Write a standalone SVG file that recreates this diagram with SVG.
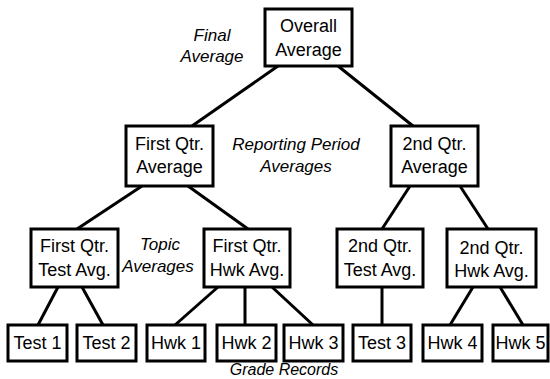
<svg xmlns="http://www.w3.org/2000/svg" width="550" height="379" viewBox="0 0 550 379">
<style>
  .box { fill: #fff; stroke: #000; stroke-width: 3; }
  .t { font-family: "Liberation Sans", Arial, sans-serif; font-size: 18px; text-anchor: middle; fill: #000; }
  .lbl { font-family: "Liberation Sans", Arial, sans-serif; font-size: 17px; font-style: italic; text-anchor: middle; fill: #000; }
  .c { stroke: #000; stroke-width: 3; fill: none; }
</style>
<rect width="550" height="379" fill="#fff"/>
<g id="connectors">
  <line class="c" x1="278" y1="66" x2="192" y2="126"/>
  <line class="c" x1="338" y1="66" x2="413" y2="126"/>
  <line class="c" x1="142" y1="186" x2="77" y2="229"/>
  <line class="c" x1="188" y1="186" x2="248" y2="229"/>
  <line class="c" x1="410" y1="186" x2="382" y2="229"/>
  <line class="c" x1="460" y1="186" x2="488" y2="229"/>
  <line class="c" x1="58" y1="287" x2="38" y2="325"/>
  <line class="c" x1="82" y1="287" x2="103" y2="325"/>
  <line class="c" x1="218" y1="287" x2="175" y2="325"/>
  <line class="c" x1="245" y1="287" x2="245" y2="325"/>
  <line class="c" x1="272" y1="287" x2="313" y2="325"/>
  <line class="c" x1="382" y1="287" x2="382" y2="325"/>
  <line class="c" x1="473" y1="287" x2="450" y2="325"/>
  <line class="c" x1="500" y1="287" x2="523" y2="325"/>
</g>
<g id="overall">
  <rect class="box" x="265" y="9" width="87" height="57"/>
  <text class="t" x="308.5" y="32">Overall</text>
  <text class="t" x="308.5" y="56">Average</text>
</g>
<g id="q1avg">
  <rect class="box" x="126" y="126" width="87" height="60"/>
  <text class="t" x="169.5" y="150">First Qtr.</text>
  <text class="t" x="169.5" y="173">Average</text>
</g>
<g id="q2avg">
  <rect class="box" x="391" y="126" width="87" height="60"/>
  <text class="t" x="434.5" y="150">2nd Qtr.</text>
  <text class="t" x="434.5" y="173">Average</text>
</g>
<g id="q1test">
  <rect class="box" x="31" y="229" width="87" height="58"/>
  <text class="t" x="74.5" y="252">First Qtr.</text>
  <text class="t" x="74.5" y="276">Test Avg.</text>
</g>
<g id="q1hwk">
  <rect class="box" x="204" y="229" width="86" height="58"/>
  <text class="t" x="247" y="252">First Qtr.</text>
  <text class="t" x="247" y="276">Hwk Avg.</text>
</g>
<g id="q2test">
  <rect class="box" x="337" y="229" width="86" height="58"/>
  <text class="t" x="380" y="252">2nd Qtr.</text>
  <text class="t" x="380" y="276">Test Avg.</text>
</g>
<g id="q2hwk">
  <rect class="box" x="447" y="229" width="89" height="58"/>
  <text class="t" x="491.5" y="254">2nd Qtr.</text>
  <text class="t" x="491.5" y="277">Hwk Avg.</text>
</g>
<g id="test1"><rect class="box" x="8" y="325" width="59" height="36"/><text class="t" x="37.5" y="349">Test 1</text></g>
<g id="test2"><rect class="box" x="77" y="325" width="59" height="36"/><text class="t" x="106.5" y="349">Test 2</text></g>
<g id="hwk1"><rect class="box" x="147" y="325" width="58" height="36"/><text class="t" x="176" y="349">Hwk 1</text></g>
<g id="hwk2"><rect class="box" x="217" y="325" width="59" height="36"/><text class="t" x="246.5" y="349">Hwk 2</text></g>
<g id="hwk3"><rect class="box" x="284" y="325" width="59" height="36"/><text class="t" x="313.5" y="349">Hwk 3</text></g>
<g id="test3"><rect class="box" x="353" y="325" width="58" height="36"/><text class="t" x="382" y="349">Test 3</text></g>
<g id="hwk4"><rect class="box" x="423" y="325" width="59" height="36"/><text class="t" x="452.5" y="349">Hwk 4</text></g>
<g id="hwk5"><rect class="box" x="493" y="325" width="55" height="36"/><text class="t" x="520.5" y="349">Hwk 5</text></g>
<g id="labels">
  <text class="lbl" x="212" y="41">Final</text>
  <text class="lbl" x="212" y="62">Average</text>
  <text class="lbl" x="296" y="150">Reporting Period</text>
  <text class="lbl" x="296" y="172">Averages</text>
  <text class="lbl" x="160" y="250">Topic</text>
  <text class="lbl" x="158" y="272">Averages</text>
  <text class="lbl" x="284" y="375" style="font-size:16px">Grade Records</text>
</g>
</svg>
